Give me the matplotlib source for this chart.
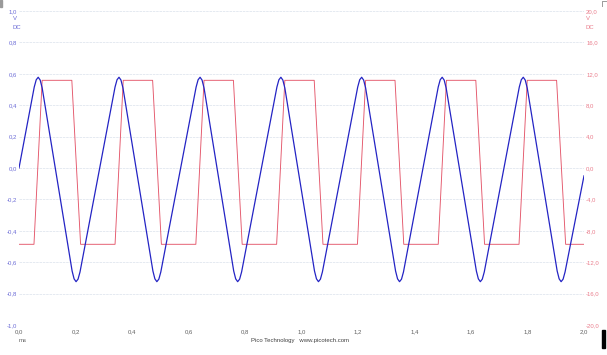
import numpy as np
import matplotlib
matplotlib.use("Agg")
import matplotlib.pyplot as plt
from matplotlib.ticker import FuncFormatter, MultipleLocator
from matplotlib.patches import Rectangle
from matplotlib.lines import Line2D

plt.rcParams['font.family'] = ['Liberation Sans', 'DejaVu Sans']
plt.rcParams['axes.unicode_minus'] = False

"""Channel A (blue, left axis, V) - triangle, read off the scope trace"""
blue_peak_t = [0.068, 0.354, 0.641, 0.927, 1.213, 1.498, 1.785]
blue_trough_t = [0.202, 0.488, 0.774, 1.060, 1.347, 1.633, 1.919]
blue_peak_v = 0.578
blue_trough_v = -0.724
blue_start = (0.0, 0.0)
blue_end = (2.0, -0.05)
# shape of the rounded tips (offset in ms, offset in V)
tip_dt = [-0.014, -0.007, 0.0, 0.007, 0.014]
peak_dv = [-0.062, -0.016, 0.0, -0.018, -0.068]
trough_dv = [0.068, 0.018, 0.0, 0.016, 0.062]

"""Channel B (red, right axis, V) - square wave edges"""
red_rise_start = [0.053, 0.340, 0.626, 0.912, 1.198, 1.484, 1.770]
red_rise_end = [0.082, 0.369, 0.655, 0.941, 1.227, 1.513, 1.799]
red_fall_start = [0.187, 0.473, 0.759, 1.045, 1.331, 1.617, 1.903]
red_fall_end = [0.218, 0.504, 0.790, 1.076, 1.362, 1.648, 1.935]
red_high = 11.17
red_low = -9.72

"""Build traces"""
bt, bv = [blue_start[0]], [blue_start[1]]
for p, tr in zip(blue_peak_t, blue_trough_t):
    for dt, dv in zip(tip_dt, peak_dv):
        bt.append(p + dt); bv.append(blue_peak_v + dv)
    for dt, dv in zip(tip_dt, trough_dv):
        bt.append(tr + dt); bv.append(blue_trough_v + dv)
bt.append(blue_end[0]); bv.append(blue_end[1])

rt, rv = [0.0], [red_low]
for a, b, c, d in zip(red_rise_start, red_rise_end, red_fall_start, red_fall_end):
    rt += [a, b, c, d]
    rv += [red_low, red_high, red_high, red_low]
rt.append(2.0); rv.append(red_low)

"""Figure"""
W, H = 607, 355
fig = plt.figure(figsize=(W / 100, H / 100), dpi=100)
ax = fig.add_axes([19 / W, 1 - 325 / H, 565 / W, 314 / H])
ax2 = ax.twinx()
ax.set_zorder(ax2.get_zorder() + 1)
ax.patch.set_visible(False)

grid_c = '#e0e6ef'
ax2.set_xlim(0, 2)
ax2.set_ylim(-20, 20)
ax2.yaxis.set_major_locator(MultipleLocator(4))
ax2.xaxis.set_major_locator(MultipleLocator(0.2))
ax2.grid(True, color=grid_c, lw=0.6, ls=(0, (3, 1)))
ax2.plot(rt, rv, color='#e4566a', lw=0.65)

ax.set_xlim(0, 2)
ax.set_ylim(-1, 1)
ax.yaxis.set_major_locator(MultipleLocator(0.2))
ax.xaxis.set_major_locator(MultipleLocator(0.2))
ax.plot(bt, bv, color='#2424c4', lw=0.9)

comma = FuncFormatter(lambda v, pos: f"{v:.1f}".replace('.', ','))
ax.xaxis.set_major_formatter(comma)
ax.yaxis.set_major_formatter(comma)
ax2.yaxis.set_major_formatter(comma)

fs = 4.3
ax.tick_params(axis='y', length=0, pad=1.2, labelsize=fs, labelcolor='#6b6bd6')
ax.tick_params(axis='x', length=0, pad=2.8, labelsize=fs, labelcolor='#606060')
ax2.tick_params(axis='y', length=0, pad=1.5, labelsize=fs, labelcolor='#ea7d8c')
for a in (ax, ax2):
    for s in a.spines.values():
        s.set_visible(False)

# unit labels
fig.text(12.5 / W, 1 - 19 / H, "V", fontsize=fs, color='#6b6bd6', va='center', ha='left')
fig.text(12.5 / W, 1 - 27.5 / H, "DC", fontsize=fs, color='#6b6bd6', va='center', ha='left')
fig.text(585.5 / W, 1 - 19 / H, "V", fontsize=fs, color='#ea7d8c', va='center', ha='left')
fig.text(585.5 / W, 1 - 27.5 / H, "DC", fontsize=fs, color='#ea7d8c', va='center', ha='left')
fig.text(19 / W, 1 - 340.5 / H, "ms", fontsize=fs, color='#606060', va='center', ha='left')
fig.text(300 / W, 1 - 340.5 / H, "Pico Technology   www.picotech.com", fontsize=fs,
         color='#404040', va='center', ha='center')

# cursor marks at the edges
fig.add_artist(Rectangle((602 / W, 1 - 348 / H), 3 / W, 18 / H, color='black',
                         transform=fig.transFigure))
fig.add_artist(Rectangle((0, 1 - 7 / H), 2 / W, 7 / H, color='#9a9a9a',
                         transform=fig.transFigure))
fig.add_artist(Line2D([601.5 / W, 601.5 / W, 607 / W], [1 - 6 / H, 1 - 1 / H, 1 - 1 / H],
                      color='#9a9a9a', lw=0.7, transform=fig.transFigure))

plt.savefig("out.png", dpi=100)
